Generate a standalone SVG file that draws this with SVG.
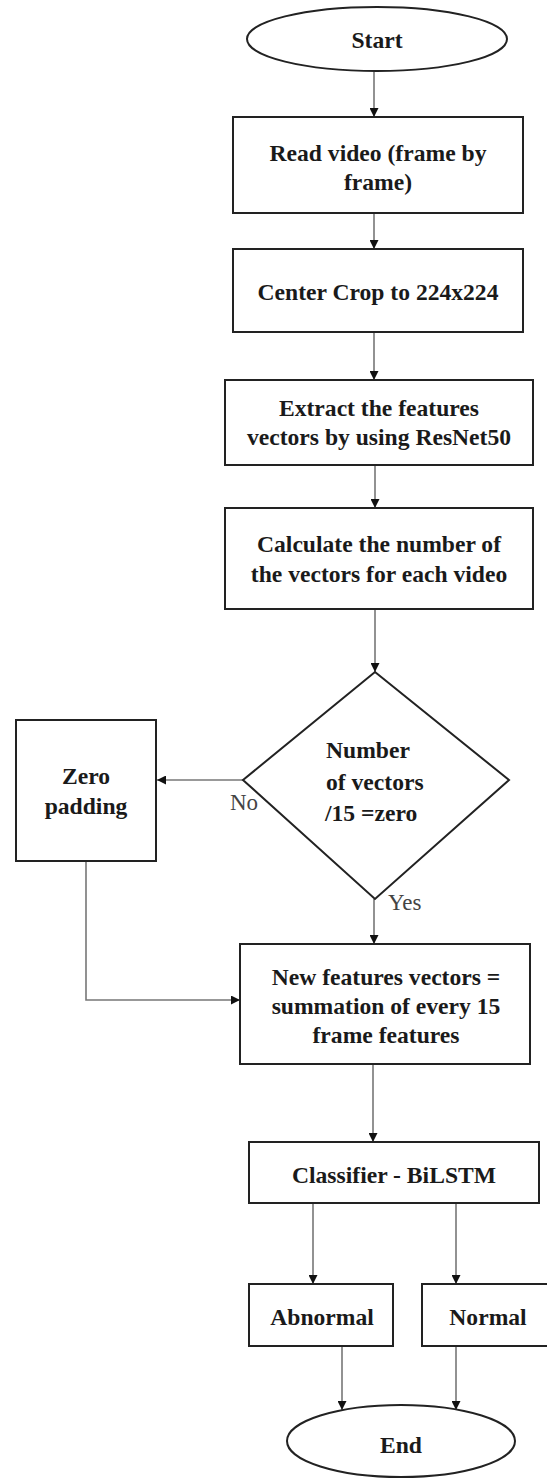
<svg xmlns="http://www.w3.org/2000/svg" width="547" height="1480" viewBox="0 0 547 1480">
<style>
.n{fill:#fff;stroke:#222;stroke-width:2}
.t{font-family:"Liberation Serif","Times New Roman",serif;font-weight:bold;font-size:23.6px;fill:#1a1a1a;text-anchor:middle}
.l{font-family:"Liberation Serif","Times New Roman",serif;font-size:23px;fill:#444}
.c{fill:none;stroke:#777;stroke-width:1.6}
</style>
<defs>
<marker id="a" viewBox="0 0 10 10" refX="10" refY="5" markerWidth="9" markerHeight="9" markerUnits="userSpaceOnUse" orient="auto">
<path d="M0,0 L10,5 L0,10 z" fill="#111"/>
</marker>
</defs>
<rect width="547" height="1480" fill="#fff"/>
<g id="connectors">
<line class="c" x1="374" y1="71" x2="374" y2="117" marker-end="url(#a)"/>
<line class="c" x1="374" y1="213" x2="374" y2="249" marker-end="url(#a)"/>
<line class="c" x1="374" y1="332" x2="374" y2="380" marker-end="url(#a)"/>
<line class="c" x1="375" y1="465" x2="375" y2="508" marker-end="url(#a)"/>
<line class="c" x1="375" y1="609" x2="375" y2="672" marker-end="url(#a)"/>
<line class="c" x1="243" y1="780" x2="157" y2="780" marker-end="url(#a)"/>
<line class="c" x1="374" y1="899" x2="374" y2="944" marker-end="url(#a)"/>
<polyline class="c" points="86,861 86,1000 240,1000" marker-end="url(#a)"/>
<line class="c" x1="373" y1="1064" x2="373" y2="1142" marker-end="url(#a)"/>
<line class="c" x1="313" y1="1203" x2="313" y2="1284" marker-end="url(#a)"/>
<line class="c" x1="456" y1="1203" x2="456" y2="1284" marker-end="url(#a)"/>
<line class="c" x1="342" y1="1346" x2="342" y2="1410" marker-end="url(#a)"/>
<line class="c" x1="456" y1="1346" x2="456" y2="1410" marker-end="url(#a)"/>
<text class="l" x="230" y="810">No</text>
<text class="l" x="388" y="910">Yes</text>
</g>
<g id="start">
<ellipse class="n" cx="377" cy="39" rx="130" ry="32"/>
<text class="t" x="377" y="48">Start</text>
</g>
<g id="read">
<rect class="n" x="233" y="117" width="290" height="96"/>
<text class="t" x="378" y="161">Read video (frame by</text>
<text class="t" x="378" y="190">frame)</text>
</g>
<g id="crop">
<rect class="n" x="233" y="249" width="290" height="83"/>
<text class="t" x="378" y="300">Center Crop to 224x224</text>
</g>
<g id="extract">
<rect class="n" x="225" y="380" width="308" height="85"/>
<text class="t" x="379" y="416">Extract the features</text>
<text class="t" x="379" y="445">vectors by using ResNet50</text>
</g>
<g id="calc">
<rect class="n" x="225" y="508" width="308" height="101"/>
<text class="t" x="379" y="552">Calculate the number of</text>
<text class="t" x="379" y="582">the vectors for each video</text>
</g>
<g id="decision">
<polygon class="n" points="375,672 509,780 375,899 243,780"/>
<text class="t" style="text-anchor:start" x="326" y="758">Number</text>
<text class="t" style="text-anchor:start" x="326" y="790">of vectors</text>
<text class="t" style="text-anchor:start" x="325" y="821">/15 =zero</text>
</g>
<g id="zero">
<rect class="n" x="16" y="720" width="140" height="141"/>
<text class="t" x="86" y="784">Zero</text>
<text class="t" x="86" y="814">padding</text>
</g>
<g id="newfeat">
<rect class="n" x="240" y="944" width="290" height="120"/>
<text class="t" x="386" y="985">New features vectors =</text>
<text class="t" x="386" y="1014">summation of every 15</text>
<text class="t" x="386" y="1043">frame features</text>
</g>
<g id="classifier">
<rect class="n" x="249" y="1142" width="290" height="61"/>
<text class="t" x="394" y="1183">Classifier - BiLSTM</text>
</g>
<g id="abnormal">
<rect class="n" x="249" y="1284" width="144" height="62"/>
<text class="t" x="322" y="1325">Abnormal</text>
</g>
<g id="normal">
<rect class="n" x="422" y="1284" width="130" height="62"/>
<text class="t" x="488" y="1325">Normal</text>
</g>
<g id="end">
<ellipse class="n" cx="401" cy="1441" rx="114" ry="36"/>
<text class="t" x="401" y="1453">End</text>
</g>
</svg>
